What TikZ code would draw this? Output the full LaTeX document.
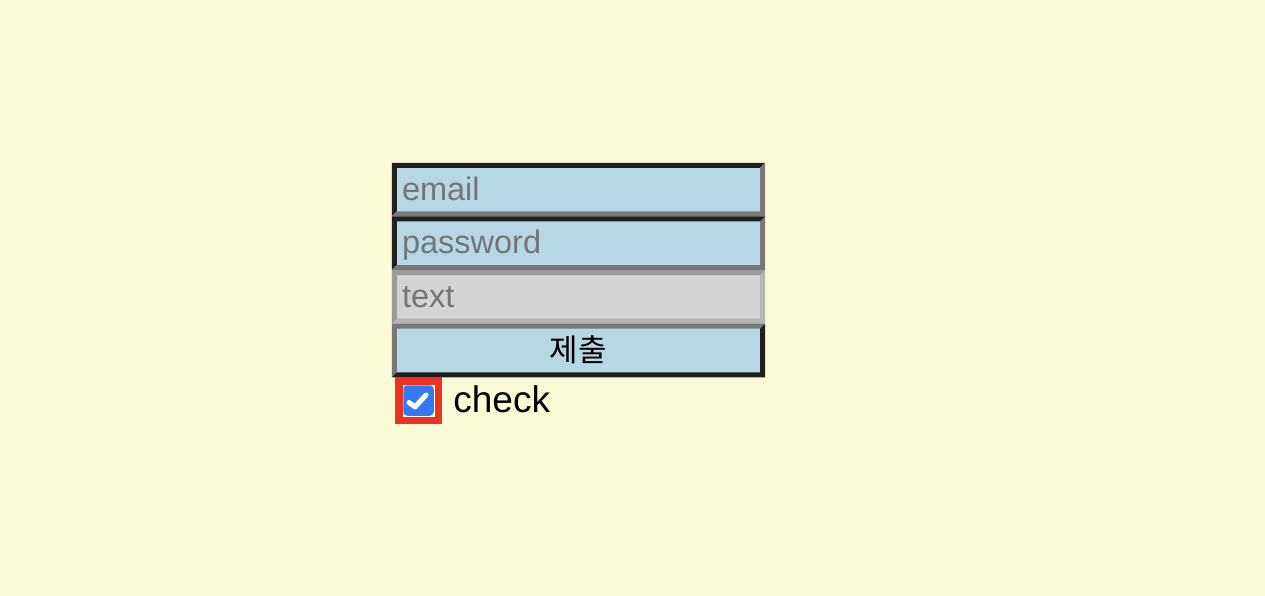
\documentclass[tikz,border=0pt]{standalone}
\usepackage{fontspec}
\setmainfont{Liberation Sans}
\newfontfamily\kofont{Noto Sans CJK KR}
\usetikzlibrary{positioning}

\definecolor{pagebg}{RGB}{250,250,214}
\definecolor{fieldblue}{RGB}{182,216,228}
\definecolor{fieldgray}{RGB}{211,211,211}
\definecolor{hintgray}{RGB}{117,117,117}
\definecolor{edgedark}{RGB}{32,32,32}
\definecolor{edgemid}{RGB}{119,119,119}
\definecolor{edgesoft}{RGB}{154,154,154}
\definecolor{edgepale}{RGB}{180,180,180}
\definecolor{outlinered}{RGB}{234,51,35}
\definecolor{tickblue}{RGB}{52,120,246}

\newcommand{\edgew}{5}
\newcommand{\fieldedge}[3]{%
  \fill[#2] (#1.south west) -- (#1.north west) -- (#1.north east)
    -- ([shift={(-\edgew,\edgew)}]#1.north east) -- ([shift={(\edgew,\edgew)}]#1.north west)
    -- ([shift={(\edgew,-\edgew)}]#1.south west) -- cycle;
  \fill[#3] (#1.south west) -- (#1.south east) -- (#1.north east)
    -- ([shift={(-\edgew,\edgew)}]#1.north east) -- ([shift={(-\edgew,-\edgew)}]#1.south east)
    -- ([shift={(\edgew,-\edgew)}]#1.south west) -- cycle;}

\begin{document}
\begin{tikzpicture}[x=1pt,y=-1pt,
  field/.style={rectangle,inner sep=0pt,minimum width=373pt,minimum height=53.25pt,
    text width=353pt,align=left,text height=24pt,text depth=3pt,
    font=\fontsize{32.5}{38}\selectfont,text=hintgray},
  submitbtn/.style={field,align=center,text=black,font=\kofont\fontsize{31}{36}\selectfont}]
  \tikzstyle{checkframe}=[rectangle,inner sep=0pt,minimum size=47pt,fill=outlinered]
  \tikzstyle{checkgap}=[rectangle,inner sep=0pt,minimum size=32pt,fill=pagebg]
  \tikzstyle{checkbox}=[rectangle,inner sep=0pt,minimum size=30.5pt,rounded corners=4pt,fill=tickblue]
  \tikzstyle{tick}=[draw=white,line width=5pt,line cap=round,line join=round]
  \tikzstyle{checklabel}=[inner sep=0pt,font=\fontsize{37}{42}\selectfont,text=black]

  \fill[pagebg] (0,0) rectangle (1265,596);
  \useasboundingbox (0,0) rectangle (1265,596);

  \node[field,fill=fieldblue] (email) at (578.5,189.6) {email};
  \node[field,fill=fieldblue] (password) [below=0pt of email] {password};
  \node[field,fill=fieldgray] (textfield) [below=0pt of password] {text};
  \node[submitbtn,fill=fieldblue] (submit) [below=0pt of textfield] {제출};

  \fieldedge{email}{edgedark}{edgemid}
  \fieldedge{password}{edgedark}{edgemid}
  \fieldedge{textfield}{edgesoft}{edgepale}
  \fieldedge{submit}{edgemid}{edgedark}

  \node[checkframe] (frame) at (418.5,400.5) {};
  \node[checkgap] (gap) at (frame) {};
  \node[checkbox] (box) at (frame) {};
  \draw[tick] ([shift={(-9.5,2)}]box.center) -- ([shift={(-3.5,6.5)}]box.center)
    -- ([shift={(7.5,-5.5)}]box.center);
  \node[checklabel] (label) [right=11pt of frame,yshift=0.8pt] {check};
\end{tikzpicture}
\end{document}
